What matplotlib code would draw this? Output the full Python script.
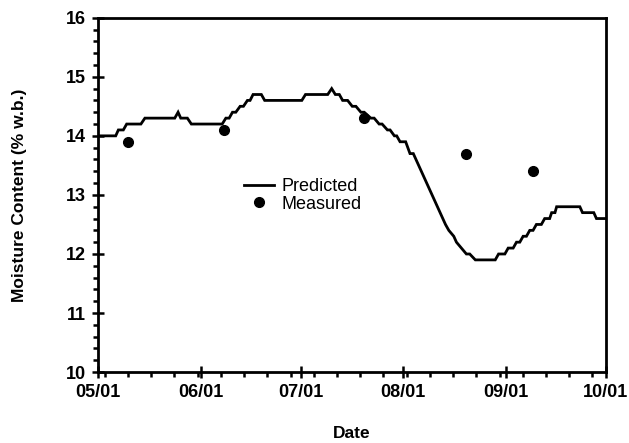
import datetime as dt
import matplotlib
matplotlib.use("Agg")
import matplotlib.pyplot as plt
import matplotlib.dates as mdates

plt.rcParams['font.family'] = ['Liberation Sans', 'DejaVu Sans']

start = dt.datetime(1998, 5, 1)

# Predicted: vertices (days after 05/01, moisture % w.b.)
pred_days = [0, 5.3, 6.1, 7.6, 8.6, 12.9, 14.1, 23.1, 24.1, 24.9, 26.9, 28.1, 37.4,
             38.5, 39.5, 40.5, 41.5, 42.8, 43.8, 45.0, 45.8, 46.7, 49.2, 50.2, 61.4,
             62.5, 69.2, 70.4, 71.5, 72.7,
             73.7, 75.2, 76.6, 77.7, 79.2, 80.2, 82.2, 83.2, 84.7, 85.6, 87.2, 88.0,
             89.3, 90.0, 91.0, 92.7, 94.0, 95.0,
             104.7, 105.7, 107.2, 108.0, 109.5, 111.0, 112.0, 113.7, 119.7,
             120.7, 122.6, 123.6, 125.1, 126.1, 127.1, 128.1, 129.1, 130.1, 131.1,
             132.1, 133.6, 134.6, 136.1, 136.7, 137.7, 138.2, 145.2, 146.0, 149.4,
             150.2, 153.0]
pred_vals = [14.0, 14.0, 14.1, 14.1, 14.2, 14.2, 14.3, 14.3, 14.4, 14.3, 14.3, 14.2, 14.2,
             14.3, 14.3, 14.4, 14.4, 14.5, 14.5, 14.6, 14.6, 14.7, 14.7, 14.6, 14.6,
             14.7, 14.7, 14.8, 14.7, 14.7,
             14.6, 14.6, 14.5, 14.5, 14.4, 14.4, 14.3, 14.3, 14.2, 14.2, 14.1, 14.1,
             14.0, 14.0, 13.9, 13.9, 13.7, 13.7,
             12.5, 12.4, 12.3, 12.2, 12.1, 12.0, 12.0, 11.9, 11.9,
             12.0, 12.0, 12.1, 12.1, 12.2, 12.2, 12.3, 12.3, 12.4, 12.4,
             12.5, 12.5, 12.6, 12.6, 12.7, 12.7, 12.8, 12.8, 12.7, 12.7,
             12.6, 12.6]

# Measured
meas_days = [9, 38, 80, 111, 131]
meas_vals = [13.9, 14.1, 14.3, 13.7, 13.4]

pred_x = [start + dt.timedelta(days=d) for d in pred_days]
meas_x = [start + dt.timedelta(days=d) for d in meas_days]

fig = plt.figure(figsize=(6.29, 4.43), dpi=100)
ax = fig.add_axes([0.156, 0.160, 0.807, 0.800])

ax.plot(pred_x, pred_vals, color='black', lw=2.0, label='Predicted',
        solid_joinstyle='miter')
ax.plot(meas_x, meas_vals, 'o', color='black', ms=7, label='Measured')

ax.set_xlim(start, dt.datetime(1998, 10, 1))
ax.set_ylim(10, 16)

ax.xaxis.set_major_locator(mdates.MonthLocator(bymonthday=1))
ax.xaxis.set_major_formatter(mdates.DateFormatter('%m/%d'))
ax.xaxis.set_minor_locator(mdates.WeekdayLocator(byweekday=mdates.SU))
ax.set_yticks([10, 11, 12, 13, 14, 15, 16])
ax.set_yticks([10 + 0.2 * i for i in range(31)], minor=True)

for s in ax.spines.values():
    s.set_linewidth(2.0)

ax.tick_params(axis='both', which='major', direction='inout', length=9, width=1.8,
               labelsize=13, pad=4)
ax.tick_params(axis='both', which='minor', direction='out', length=3.5, width=1.8)
for lab in ax.get_xticklabels() + ax.get_yticklabels():
    lab.set_fontweight('bold')

ax.set_xlabel('Date', fontsize=12.5, fontweight='bold', labelpad=18)
ax.set_ylabel('Moisture Content (% w.b.)', fontsize=12.5, fontweight='bold', labelpad=28)

leg = ax.legend(loc='upper left', bbox_to_anchor=(0.288, 0.548), frameon=False,
                fontsize=13, handlelength=1.65, handletextpad=0.4,
                labelspacing=0.05, borderpad=0, borderaxespad=0)

fig.savefig('out.png', dpi=100)
